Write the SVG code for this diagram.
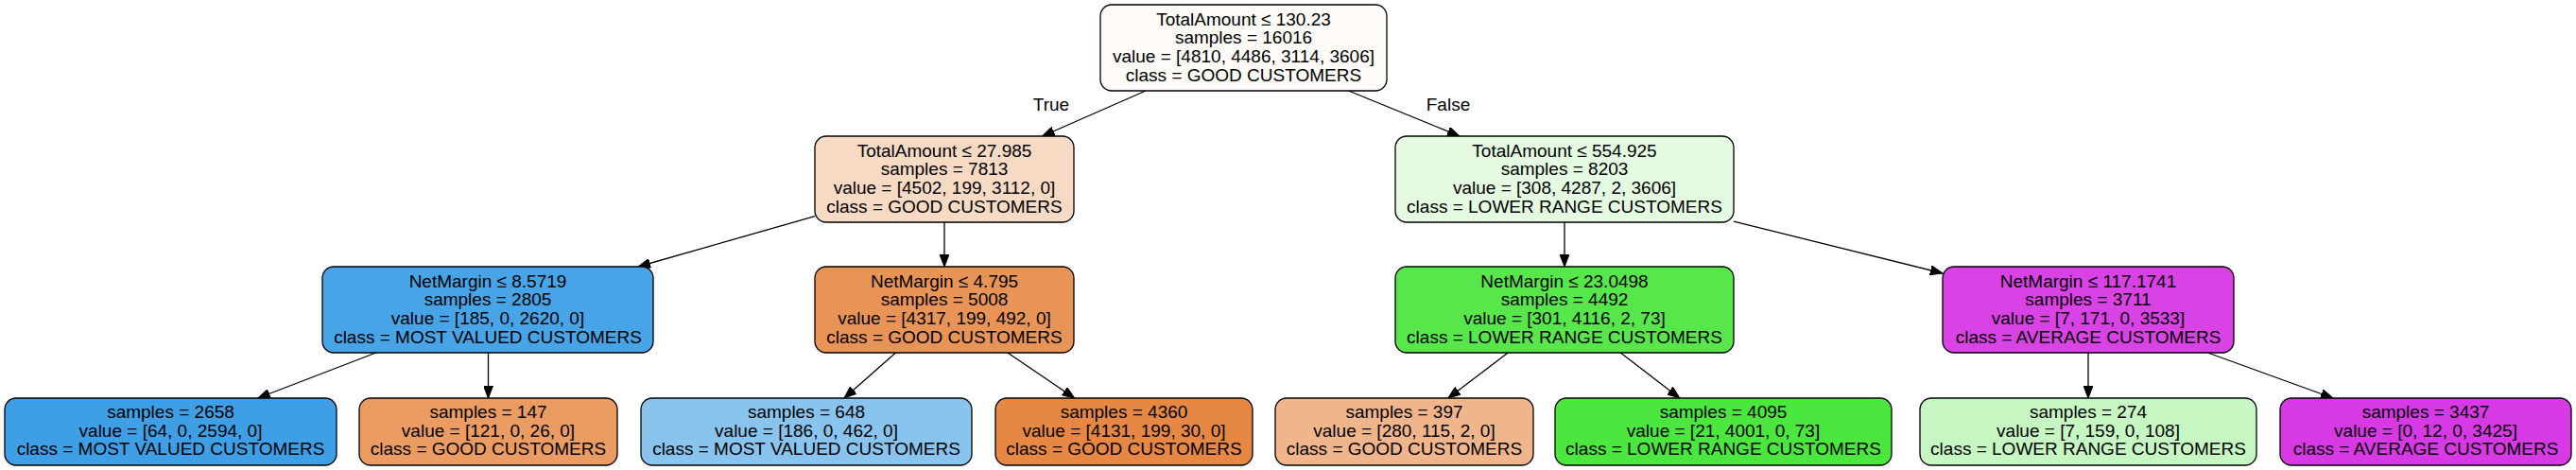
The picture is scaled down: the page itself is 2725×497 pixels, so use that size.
<svg xmlns="http://www.w3.org/2000/svg" width="2725" height="497" viewBox="0 0 2725 497">
<style>
  .box { stroke: #000; stroke-width: 1.3; }
  .t { font-family: "Liberation Sans", Arial, sans-serif; font-size: 19px; fill: #000; text-anchor: middle; }
  .edge { stroke: #000; stroke-width: 1.3; fill: none; marker-end: url(#arrow); }
</style>
<defs>
  <marker id="arrow" markerUnits="userSpaceOnUse" markerWidth="14" markerHeight="10" refX="13" refY="5" orient="auto" viewBox="0 0 14 10">
    <path d="M0,0 L13,5 L0,10 Z" fill="#000" stroke="#000" stroke-width="1"/>
  </marker>
</defs>
<rect width="2725" height="497" fill="#ffffff"/>

<g id="connectors">
  <path class="edge" d="M1212,96 L1102.6,144"/>
  <path class="edge" d="M1426.6,96 L1544,144"/>
  <path class="edge" d="M862,228.6 L675,282"/>
  <path class="edge" d="M999,235 L999,282"/>
  <path class="edge" d="M1655,235 L1655,282"/>
  <path class="edge" d="M1834,234.1 L2055,289"/>
  <path class="edge" d="M397.7,373 L272.8,421"/>
  <path class="edge" d="M516.5,373 L516.5,421"/>
  <path class="edge" d="M947.5,373 L893,421"/>
  <path class="edge" d="M1066,373 L1136.7,421"/>
  <path class="edge" d="M1595.2,373 L1532,421"/>
  <path class="edge" d="M1714.3,373 L1776.8,421"/>
  <path class="edge" d="M2209,373 L2209,421"/>
  <path class="edge" d="M2335.5,373 L2468,421"/>
  <text class="t" x="1112" y="117">True</text>
  <text class="t" x="1532" y="117">False</text>
</g>

<g id="node0">
  <rect class="box" x="1164" y="5" width="303" height="91" rx="12" fill="#fefbf9"/>
  <text class="t" x="1315.5" y="26.7">TotalAmount ≤ 130.23</text>
  <text class="t" x="1315.5" y="46.4">samples = 16016</text>
  <text class="t" x="1315.5" y="66.1">value = [4810, 4486, 3114, 3606]</text>
  <text class="t" x="1315.5" y="85.8">class = GOOD CUSTOMERS</text>
</g>

<g id="node1">
  <rect class="box" x="862" y="144" width="274" height="91" rx="12" fill="#f7dac4"/>
  <text class="t" x="999" y="165.7">TotalAmount ≤ 27.985</text>
  <text class="t" x="999" y="185.4">samples = 7813</text>
  <text class="t" x="999" y="205.1">value = [4502, 199, 3112, 0]</text>
  <text class="t" x="999" y="224.8">class = GOOD CUSTOMERS</text>
</g>

<g id="node2">
  <rect class="box" x="341" y="282" width="350" height="91" rx="12" fill="#47a4e7"/>
  <text class="t" x="516" y="303.7">NetMargin ≤ 8.5719</text>
  <text class="t" x="516" y="323.4">samples = 2805</text>
  <text class="t" x="516" y="343.1">value = [185, 0, 2620, 0]</text>
  <text class="t" x="516" y="362.8">class = MOST VALUED CUSTOMERS</text>
</g>

<g id="node3">
  <rect class="box" x="5" y="421" width="351" height="71" rx="12" fill="#3e9fe6"/>
  <text class="t" x="180.5" y="441.8">samples = 2658</text>
  <text class="t" x="180.5" y="461.5">value = [64, 0, 2594, 0]</text>
  <text class="t" x="180.5" y="481.2">class = MOST VALUED CUSTOMERS</text>
</g>

<g id="node4">
  <rect class="box" x="380" y="421" width="273" height="71" rx="12" fill="#eb9c63"/>
  <text class="t" x="516.5" y="441.8">samples = 147</text>
  <text class="t" x="516.5" y="461.5">value = [121, 0, 26, 0]</text>
  <text class="t" x="516.5" y="481.2">class = GOOD CUSTOMERS</text>
</g>

<g id="node5">
  <rect class="box" x="862" y="282" width="274" height="91" rx="12" fill="#e99457"/>
  <text class="t" x="999" y="303.7">NetMargin ≤ 4.795</text>
  <text class="t" x="999" y="323.4">samples = 5008</text>
  <text class="t" x="999" y="343.1">value = [4317, 199, 492, 0]</text>
  <text class="t" x="999" y="362.8">class = GOOD CUSTOMERS</text>
</g>

<g id="node6">
  <rect class="box" x="678" y="421" width="350" height="71" rx="12" fill="#89c4ef"/>
  <text class="t" x="853" y="441.8">samples = 648</text>
  <text class="t" x="853" y="461.5">value = [186, 0, 462, 0]</text>
  <text class="t" x="853" y="481.2">class = MOST VALUED CUSTOMERS</text>
</g>

<g id="node7">
  <rect class="box" x="1053" y="421" width="272" height="71" rx="12" fill="#e68844"/>
  <text class="t" x="1189" y="441.8">samples = 4360</text>
  <text class="t" x="1189" y="461.5">value = [4131, 199, 30, 0]</text>
  <text class="t" x="1189" y="481.2">class = GOOD CUSTOMERS</text>
</g>

<g id="node8">
  <rect class="box" x="1476" y="144" width="358" height="91" rx="12" fill="#e4fbe2"/>
  <text class="t" x="1655" y="165.7">TotalAmount ≤ 554.925</text>
  <text class="t" x="1655" y="185.4">samples = 8203</text>
  <text class="t" x="1655" y="205.1">value = [308, 4287, 2, 3606]</text>
  <text class="t" x="1655" y="224.8">class = LOWER RANGE CUSTOMERS</text>
</g>

<g id="node9">
  <rect class="box" x="1476" y="282" width="358" height="91" rx="12" fill="#57e74b"/>
  <text class="t" x="1655" y="303.7">NetMargin ≤ 23.0498</text>
  <text class="t" x="1655" y="323.4">samples = 4492</text>
  <text class="t" x="1655" y="343.1">value = [301, 4116, 2, 73]</text>
  <text class="t" x="1655" y="362.8">class = LOWER RANGE CUSTOMERS</text>
</g>

<g id="node10">
  <rect class="box" x="1349" y="421" width="273" height="71" rx="12" fill="#f0b58b"/>
  <text class="t" x="1485.5" y="441.8">samples = 397</text>
  <text class="t" x="1485.5" y="461.5">value = [280, 115, 2, 0]</text>
  <text class="t" x="1485.5" y="481.2">class = GOOD CUSTOMERS</text>
</g>

<g id="node11">
  <rect class="box" x="1645" y="421" width="356" height="71" rx="12" fill="#4be63e"/>
  <text class="t" x="1823" y="441.8">samples = 4095</text>
  <text class="t" x="1823" y="461.5">value = [21, 4001, 0, 73]</text>
  <text class="t" x="1823" y="481.2">class = LOWER RANGE CUSTOMERS</text>
</g>

<g id="node12">
  <rect class="box" x="2055" y="282" width="308" height="91" rx="12" fill="#d943e6"/>
  <text class="t" x="2209" y="303.7">NetMargin ≤ 117.1741</text>
  <text class="t" x="2209" y="323.4">samples = 3711</text>
  <text class="t" x="2209" y="343.1">value = [7, 171, 0, 3533]</text>
  <text class="t" x="2209" y="362.8">class = AVERAGE CUSTOMERS</text>
</g>

<g id="node13">
  <rect class="box" x="2031" y="421" width="356" height="71" rx="12" fill="#c6f7c2"/>
  <text class="t" x="2209" y="441.8">samples = 274</text>
  <text class="t" x="2209" y="461.5">value = [7, 159, 0, 108]</text>
  <text class="t" x="2209" y="481.2">class = LOWER RANGE CUSTOMERS</text>
</g>

<g id="node14">
  <rect class="box" x="2412" y="421" width="308" height="71" rx="12" fill="#d73ae5"/>
  <text class="t" x="2566" y="441.8">samples = 3437</text>
  <text class="t" x="2566" y="461.5">value = [0, 12, 0, 3425]</text>
  <text class="t" x="2566" y="481.2">class = AVERAGE CUSTOMERS</text>
</g>
</svg>
